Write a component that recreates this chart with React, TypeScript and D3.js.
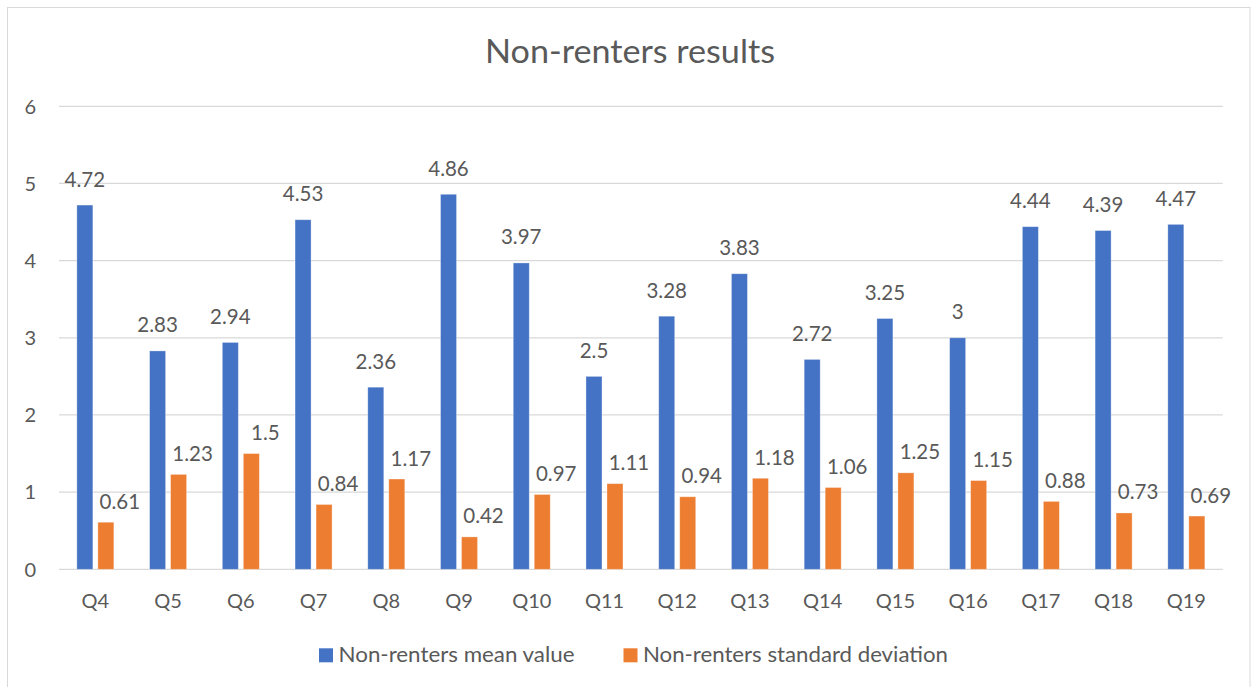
import React, { useEffect } from "react";
import * as d3 from "d3";

const categories = ["Q4","Q5","Q6","Q7","Q8","Q9","Q10","Q11","Q12","Q13","Q14","Q15","Q16","Q17","Q18","Q19"];
const meanValues = [4.72,2.83,2.94,4.53,2.36,4.86,3.97,2.5,3.28,3.83,2.72,3.25,3,4.44,4.39,4.47];
const sdValues = [0.61,1.23,1.5,0.84,1.17,0.42,0.97,1.11,0.94,1.18,1.06,1.25,1.15,0.88,0.73,0.69];
const seriesNames = ["Non-renters mean value","Non-renters standard deviation"];
const yTicks = [0,1,2,3,4,5,6];
const title = "Non-renters results";

const W = 1252, H = 687;
const colors = ["#4472C4", "#ED7D31"];
const textColor = "#595959";
const font = "Lato, 'Open Sans', sans-serif";

export default function App() {
  useEffect(() => { document.body.style.margin = "0"; }, []);
  const left = 59, right = 1222.7, top = 106.3, bottom = 569.3;
  const x0 = d3.scaleBand<string>().domain(categories).range([left, right]).padding(0);
  const bw = x0.bandwidth();
  const x1 = d3.scaleBand<string>().domain(seriesNames).range([bw / 2 - 18.5, bw / 2 + 18.5]).paddingInner(0.238).paddingOuter(0);
  const y = d3.scaleLinear().domain([0, 6]).range([bottom, top]);
  const series = [meanValues, sdValues];
  const fmt = (v: number) => String(v);
  const legendX = [319, 623.5];
  const legendW = [236, 305];

  return (
    <svg width={W} height={H} style={{ display: "block", fontFamily: font }}>
      <rect x={0} y={0} width={W} height={H} fill="#fff" />
      <rect x={7.5} y={7.5} width={1242.5} height={720} fill="#fff" stroke="#D9D9D9" strokeWidth={1} />
      <text x={630} y={62.5} textAnchor="middle" fontSize={33} fill={textColor} textLength={290} lengthAdjust="spacingAndGlyphs">{title}</text>
      {yTicks.map(t => (
        <g key={t}>
          <line x1={left} x2={right} y1={y(t)} y2={y(t)} stroke="#D9D9D9" strokeWidth={1.2} />
          <text x={36} y={y(t)} dy="0.36em" textAnchor="end" fontSize={20} fill={textColor}>{t}</text>
        </g>
      ))}
      {categories.map((c, i) => (
        <g key={c}>
          {series.map((vals, s) => {
            const bx = (x0(c) as number) + (x1(seriesNames[s]) as number);
            const by = y(vals[i]);
            const cx = bx + x1.bandwidth() / 2;
            return (
              <g key={s}>
                <rect x={bx} y={by} width={x1.bandwidth()} height={bottom - by} fill={colors[s]} stroke="#fff" strokeOpacity={0.4} strokeWidth={0.8} />
                <text x={s === 0 ? cx : cx + 14} y={s === 0 ? by - 18.5 : by - 13.5} textAnchor="middle" fontSize={20.5} fill={textColor}>{fmt(vals[i])}</text>
              </g>
            );
          })}
          <text x={(x0(c) as number) + bw / 2} y={608} textAnchor="middle" fontSize={20} fill={textColor}>{c}</text>
        </g>
      ))}
      {seriesNames.map((n, s) => {
        const lx = legendX[s];
        return (
          <g key={n}>
            <rect x={lx} y={648.3} width={14} height={14} fill={colors[s]} />
            <text x={lx + 19.5} y={661.7} fontSize={20.5} fill={textColor} textLength={legendW[s]} lengthAdjust="spacingAndGlyphs">{n}</text>
          </g>
        );
      })}
    </svg>
  );
}
